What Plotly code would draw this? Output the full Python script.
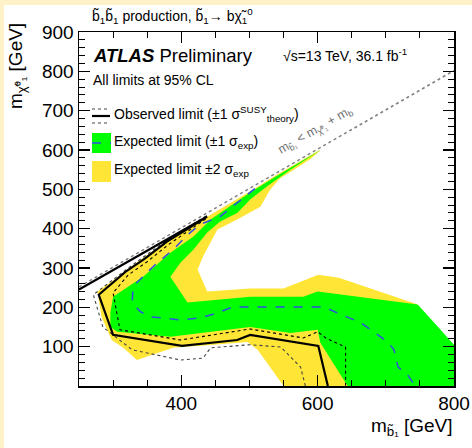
import plotly.graph_objects as go

# ---------------- data ----------------
# Expected +-2 sigma band: outer boundary (yellow)
yel_outer_x = [277, 300, 330, 360, 385, 410, 440, 470, 500, 540, 602, 800, 800, 550, 512, 497, 447, 388, 335, 315, 298, 283, 277]
yel_outer_y = [240, 268, 308, 345, 376, 402, 432, 463, 494, 537, 599, 797, 0, 0, 92, 112, 105, 97, 66, 97, 117, 176, 240]
# Expected +-1 sigma band: outer boundary (green)
grn_outer_x = [296, 296, 300, 344, 384, 418, 443, 476, 501, 540, 601, 800, 800, 644, 604, 600, 560, 501, 432, 384, 306, 296]
grn_outer_y = [150, 186, 227, 278, 339, 380, 423, 461, 492, 534, 597, 797, 0, 0, 110, 143, 135, 150, 135, 125, 138, 150]
# Expected -1 sigma boundary (inner edge of green)
yel_inner_x = [601, 560, 526, 501, 482, 457, 438, 418, 399, 384, 409, 501, 579, 600, 747, 800, 800, 601]
yel_inner_y = [596, 550, 508, 474, 440, 418, 390, 347, 314, 278, 212, 227, 227, 240, 207, 110, 797, 596]
# Expected -2 sigma boundary (not excluded region)
hole_x = [603, 590, 560, 545, 530, 516, 482, 453, 432, 424, 438, 501, 550, 601, 631, 747, 800, 800, 603, 603]
hole_y = [598, 578, 544, 528, 498, 456, 423, 398, 329, 296, 240, 248, 248, 283, 275, 207, 105, 815, 615, 598]
# Expected limit (blue dashed)
exp_x = [508, 501, 476, 457, 428, 413, 388, 359, 335, 329, 328, 340, 354, 399, 428, 453, 476, 609, 629, 663, 703, 712, 718, 732, 743]
exp_y = [502, 492, 456, 431, 411, 390, 347, 304, 263, 245, 212, 189, 176, 168, 173, 186, 201, 201, 186, 161, 112, 92, 48, 28, 0]
# Observed limit (solid)
obs_x = [250, 438, 410, 379, 345, 318, 279, 300, 401, 482, 501, 601, 615]
obs_y = [245, 431, 400, 367, 322, 290, 232, 130, 102, 117, 130, 102, 0]
# Observed +-1 sigma theory (dotted)
obs_dn_x = [436, 384, 330, 285, 271, 285, 328, 399, 432, 443, 501, 546, 575, 582]
obs_dn_y = [432, 377, 310, 252, 232, 150, 92, 66, 71, 97, 105, 99, 48, 0]
obs_up_x = [436, 410, 380, 350, 322, 300, 310, 399, 501, 579, 600, 612, 641, 641]
obs_up_y = [425, 394, 358, 316, 282, 237, 143, 117, 145, 122, 138, 122, 99, 0]
# Kinematic limit
kin_x = [250, 800]
kin_y = [252, 802]

x_ticks = [400, 600, 800]
y_ticks = [100, 200, 300, 400, 500, 600, 700, 800, 900]

# ---------------- styling ----------------
FONT = "Liberation Sans, Arial, Helvetica, sans-serif"
YEL = "#FFE535"
GRN = "#00FF00"
BLUE = "#3050E0"
BG = "#FFF2C8"

W, H = 472, 448
L, R, T, B = 79, 18, 32, 62
PW = W - L - R
PH = H - T - B


def fx(px):
    return (px - L) / PW


def fy(py):
    return (H - B - py) / PH


fig = go.Figure()


def poly(x, y, color):
    fig.add_trace(go.Scatter(x=x, y=y, mode="lines", fill="toself", fillcolor=color,
                             line=dict(width=0, color=color), hoverinfo="skip", showlegend=False))


def line(x, y, color, width, dash="solid"):
    fig.add_trace(go.Scatter(x=x, y=y, mode="lines", line=dict(color=color, width=width, dash=dash),
                             hoverinfo="skip", showlegend=False))


poly(yel_outer_x, yel_outer_y, YEL)
poly(grn_outer_x, grn_outer_y, GRN)
poly(yel_inner_x, yel_inner_y, YEL)
poly(hole_x, hole_y, "white")

line(kin_x, kin_y, "#808080", 1.5, "dot")
line(exp_x, exp_y, BLUE, 1.5, "dash")
line(obs_dn_x, obs_dn_y, "#444444", 1.1, "dot")
line(obs_up_x, obs_up_y, "black", 1.1, "dot")
line(obs_x, obs_y, "black", 2.2)

axis_common = dict(ticks="inside", ticklen=11, tickwidth=1.3, tickcolor="black",
                   showline=True, linecolor="black", linewidth=1.5, mirror="ticks",
                   showgrid=False, zeroline=False, automargin=False,
                   tickfont=dict(family=FONT, size=19, color="black"))

fig.update_xaxes(range=[250, 800], tickvals=x_ticks, ticktext=[str(v) for v in x_ticks],
                 minor=dict(dtick=50, tick0=0, ticks="inside", ticklen=6, tickwidth=1, tickcolor="black"),
                 ticklabelstandoff=0, **axis_common)
fig.update_yaxes(range=[0, 900], tickvals=y_ticks, ticktext=[str(v) for v in y_ticks],
                 minor=dict(dtick=20, tick0=0, ticks="inside", ticklen=6, tickwidth=1, tickcolor="black"),
                 ticklabelstandoff=0, **axis_common)

shapes = [
    # white page inside the cream frame
    dict(type="rect", xref="paper", yref="paper", x0=fx(4), x1=fx(W + 5), y0=fy(H + 5), y1=fy(5),
         fillcolor="white", line=dict(width=0), layer="below"),
    # legend symbols
    dict(type="line", xref="paper", yref="paper", x0=fx(92), x1=fx(110), y0=fy(109), y1=fy(109),
         line=dict(color="#444444", width=1, dash="dot")),
    dict(type="line", xref="paper", yref="paper", x0=fx(92), x1=fx(110), y0=fy(116), y1=fy(116),
         line=dict(color="black", width=2.2)),
    dict(type="line", xref="paper", yref="paper", x0=fx(92), x1=fx(110), y0=fy(123), y1=fy(123),
         line=dict(color="#444444", width=1, dash="dot")),
    dict(type="rect", xref="paper", yref="paper", x0=fx(92), x1=fx(111), y0=fy(153), y1=fy(133),
         fillcolor=GRN, line=dict(width=0)),
    dict(type="line", xref="paper", yref="paper", x0=fx(92), x1=fx(111), y0=fy(143), y1=fy(143),
         line=dict(color=BLUE, width=1.5, dash="dash")),
    dict(type="rect", xref="paper", yref="paper", x0=fx(92), x1=fx(111), y0=fy(182), y1=fy(161),
         fillcolor=YEL, line=dict(width=0)),
]


def ann(text, px, py, size, xanchor="left", yanchor="middle", color="black", angle=0):
    return dict(text=text, xref="paper", yref="paper", x=fx(px), y=fy(py), xanchor=xanchor,
                yanchor=yanchor, showarrow=False, textangle=angle, borderpad=0,
                font=dict(family=FONT, size=size, color=color))


annotations = [
    ann("b\u0303<sub>1</sub>b\u0303<sub>1</sub> production, b\u0303<sub>1</sub>\u2192 b\u03c7\u0303<sub>1</sub><sup>0</sup>",
        91, 16, 14),
    ann("<b><i>ATLAS</i></b> Preliminary", 92, 55, 18.5),
    ann("\u221as=13 TeV, 36.1 fb<sup>-1</sup>", 282, 55, 14),
    ann("All limits at 95% CL", 92, 80, 14),
    ann("Observed limit (\u00b11 \u03c3<sup>SUSY</sup><sub>theory</sub>)", 113, 114, 14),
    ann("Expected limit (\u00b11 \u03c3<sub>exp</sub>)", 113, 142, 14),
    ann("Expected limit \u00b12 \u03c3<sub>exp</sub>", 113, 170, 14),
    ann("m<sub>b\u0303\u2081</sub> &lt; m<sub>\u03c7\u0303\u2070\u2081</sub> + m<sub>b</sub>", 315, 131, 12.5,
        xanchor="center", color="#707070", angle=-30),
    ann("m<sub>b\u0303\u2081</sub> [GeV]", 454, 427, 19, xanchor="right"),
    ann("m<sub>\u03c7\u0303\u2070\u2081</sub> [GeV]", 17, 66, 19, xanchor="center", angle=-90),
]

fig.update_layout(
    width=W, height=H,
    margin=dict(l=L, r=R, t=T, b=B, pad=0, autoexpand=False),
    paper_bgcolor=BG, plot_bgcolor="white",
    shapes=shapes, annotations=annotations,
    showlegend=False, hovermode=False,
    font=dict(family=FONT, color="black"),
)

fig.write_html("out.html", config={"displayModeBar": False, "staticPlot": True},
               post_script="document.body.style.margin='0';document.body.style.padding='0';")
